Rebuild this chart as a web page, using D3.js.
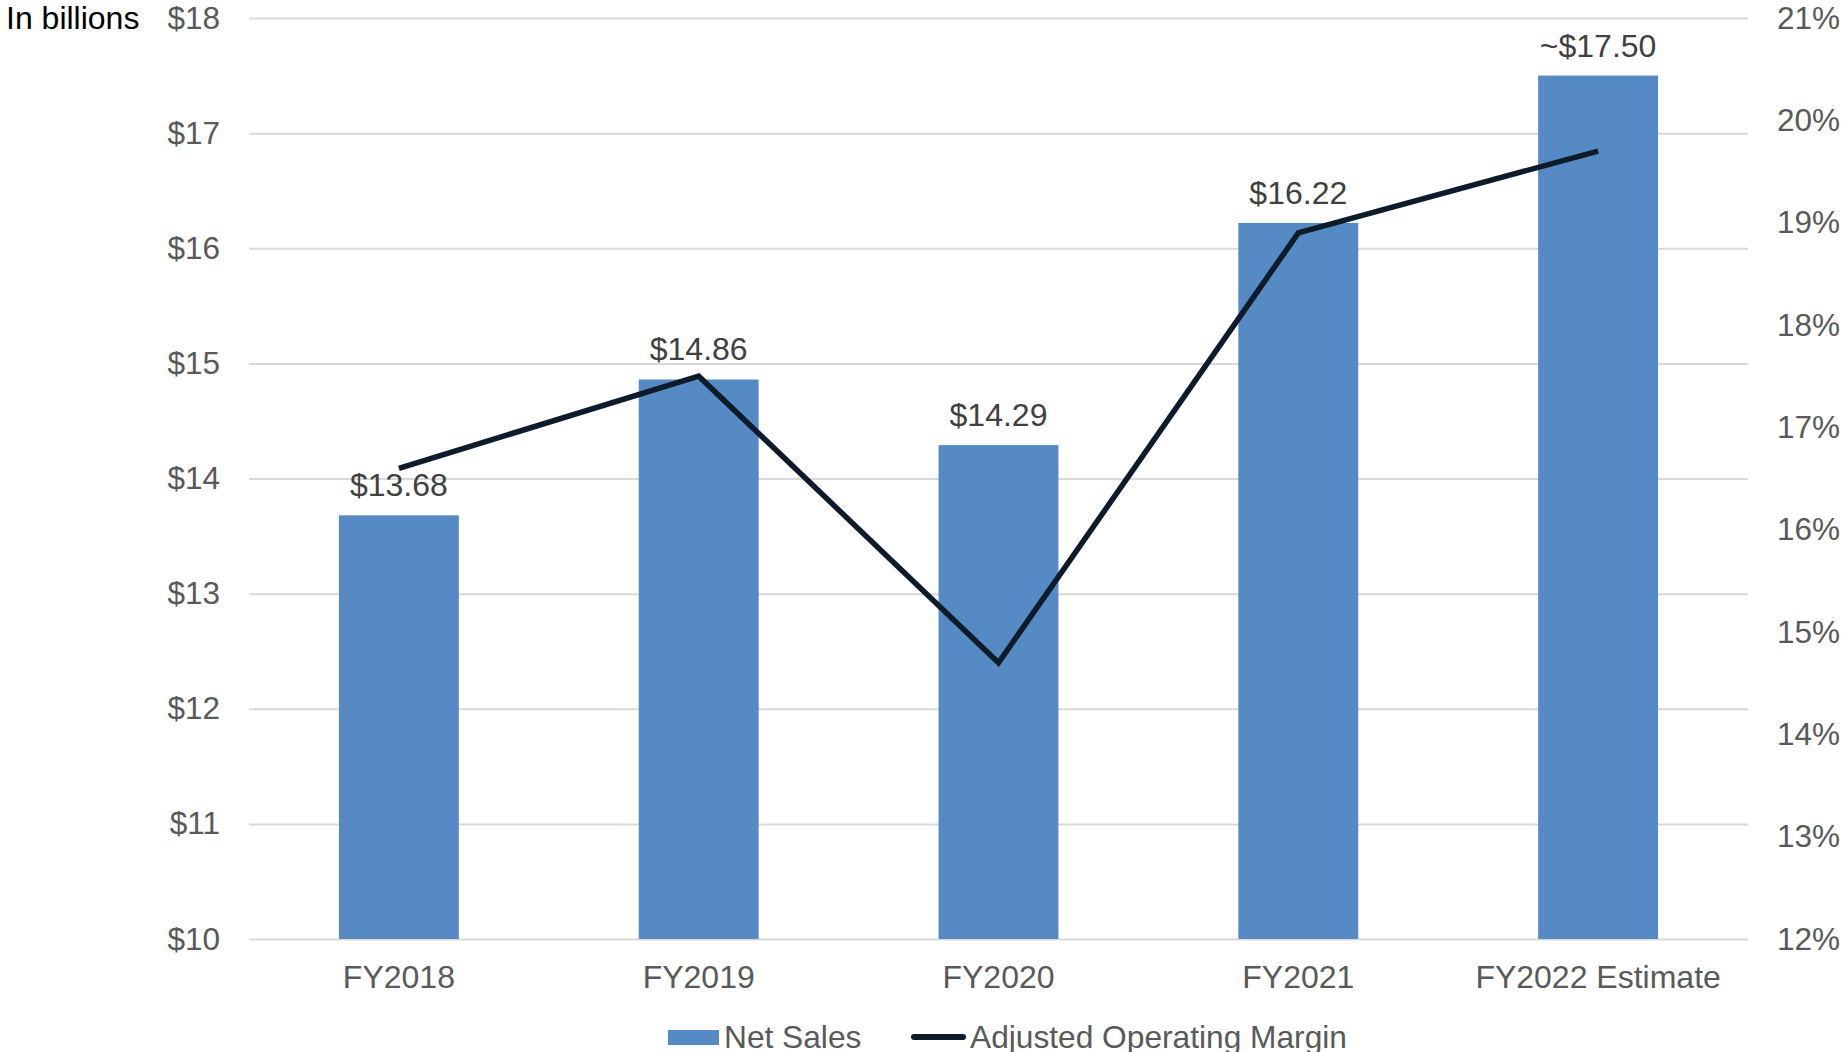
<!DOCTYPE html>
<html><head><meta charset="utf-8">
<script src="https://cdn.jsdelivr.net/npm/d3@7"></script>
<style>body{margin:0;background:#fff;}svg{display:block;font-family:"Liberation Sans",Arial,sans-serif;}</style>
</head><body>
<svg id="c" width="1843" height="1052"></svg>
<script>
const categories = ["FY2018","FY2019","FY2020","FY2021","FY2022 Estimate"];
const netSales = [13.68, 14.86, 14.29, 16.22, 17.50];
const salesLabels = ["$13.68","$14.86","$14.29","$16.22","~$17.50"];
const margin = [16.6, 17.5, 14.7, 18.9, 19.7];
const leftTicks = [10,11,12,13,14,15,16,17,18];
const rightTicks = [12,13,14,15,16,17,18,19,20,21];

const svg = d3.select("#c");
const L = 249, R = 1748, T = 18, B = 939;
const x = d3.scaleBand().domain(categories).range([L, R]).paddingInner(0.6).paddingOuter(0.3);
const y = d3.scaleLinear().domain([10,18]).range([B, T]);
const y2 = d3.scaleLinear().domain([12,21]).range([B, T]);
const FS = 31.5;
const FS2 = 32;

// gridlines
svg.append("g").attr("transform",`translate(${L},0)`)
  .call(d3.axisLeft(y).tickValues(leftTicks).tickSize(-(R-L)).tickFormat(""))
  .call(g=>g.select(".domain").remove())
  .call(g=>g.selectAll("line").attr("stroke","#d9d9d9").attr("stroke-width",2));

// left axis labels
svg.append("g").attr("transform",`translate(${L},0)`)
  .call(d3.axisLeft(y).tickValues(leftTicks).tickSize(0).tickPadding(29).tickFormat(d=>"$"+d))
  .call(g=>g.select(".domain").remove())
  .call(g=>g.selectAll("text").attr("fill","#595959").style("font-size",FS+"px").attr("font-family",null));

// right axis labels
svg.append("g").attr("transform",`translate(${R},0)`)
  .call(d3.axisRight(y2).tickValues(rightTicks).tickSize(0).tickPadding(29).tickFormat(d=>d+"%"))
  .call(g=>g.select(".domain").remove())
  .call(g=>g.selectAll("text").attr("fill","#595959").style("font-size",FS+"px").attr("font-family",null));

// bars
svg.append("g").selectAll("rect").data(categories).join("rect")
  .attr("x",d=>x(d)).attr("width",x.bandwidth())
  .attr("y",(d,i)=>y(netSales[i])).attr("height",(d,i)=>B-y(netSales[i]))
  .attr("fill","#558ac5");

// bottom axis labels
svg.append("g").attr("transform",`translate(0,${B})`)
  .call(d3.axisBottom(x).tickSize(0).tickPadding(26))
  .call(g=>g.select(".domain").remove())
  .call(g=>g.selectAll("text").attr("fill","#595959").style("font-size",FS2+"px").attr("font-family",null));

// data labels
svg.append("g").selectAll("text").data(categories).join("text")
  .attr("x",d=>x(d)+x.bandwidth()/2).attr("y",(d,i)=>y(netSales[i])-19)
  .attr("text-anchor","middle").attr("fill","#404040").style("font-size",FS2+"px")
  .text((d,i)=>salesLabels[i]);

// line
const line = d3.line().x((d,i)=>x(categories[i])+x.bandwidth()/2).y(d=>y2(d));
svg.append("path").datum(margin).attr("d",line).attr("fill","none")
  .attr("stroke","#0d1b2a").attr("stroke-width",5.5).attr("stroke-linejoin","miter");

// in billions
svg.append("text").attr("x",6).attr("y",29).attr("fill","#000").style("font-size",FS2+"px").text("In billions");

// legend
const lg = svg.append("g");
lg.append("rect").attr("x",668).attr("y",1030).attr("width",51).attr("height",15).attr("fill","#558ac5");
lg.append("text").attr("x",724).attr("y",1048).attr("fill","#595959").style("font-size","31.7px").text("Net Sales");
lg.append("line").attr("x1",914).attr("x2",963).attr("y1",1037).attr("y2",1037)
  .attr("stroke","#0d1b2a").attr("stroke-width",6).attr("stroke-linecap","round");
lg.append("text").attr("x",970).attr("y",1048).attr("fill","#595959").style("font-size","31.7px").text("Adjusted Operating Margin");
</script>
</body></html>
